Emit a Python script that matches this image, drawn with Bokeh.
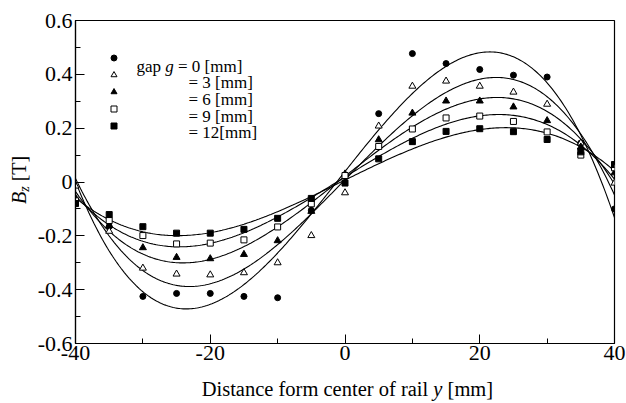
import numpy as np
from bokeh.plotting import figure
from bokeh.layouts import column, row
from bokeh.models import Range1d, FixedTicker, Label, Legend, LegendItem, Div
from bokeh.core.properties import value
from bokeh.embed import file_html
from bokeh.resources import INLINE

# Measured Bz along the lateral position y for five air gaps
positions = [-40, -35, -30, -25, -20, -15, -10, -5, 0, 5, 10, 15, 20, 25, 30, 35, 40]
bz_g0 = [-0.065, -0.165, -0.425, -0.414, -0.414, -0.425, -0.430, -0.105, 0.020,
         0.254, 0.477, 0.440, 0.418, 0.397, 0.390, 0.145, -0.100]
bz_g3 = [-0.015, -0.183, -0.320, -0.342, -0.345, -0.337, -0.300, -0.199, -0.040,
         0.208, 0.356, 0.375, 0.356, 0.334, 0.289, 0.145, -0.004]
bz_g6 = [-0.060, -0.162, -0.244, -0.280, -0.285, -0.269, -0.218, -0.109, 0.030,
         0.157, 0.256, 0.301, 0.301, 0.279, 0.228, 0.130, 0.034]
bz_g9 = [-0.070, -0.143, -0.199, -0.230, -0.227, -0.215, -0.167, -0.081, 0.024,
         0.132, 0.197, 0.238, 0.245, 0.225, 0.186, 0.100, 0.053]
bz_g12 = [-0.080, -0.121, -0.166, -0.190, -0.190, -0.176, -0.135, -0.061, -0.004,
          0.086, 0.150, 0.188, 0.198, 0.187, 0.158, 0.112, 0.065]

gap_labels = ["= 0 [mm]", "= 3 [mm]", "= 6 [mm]", "= 9 [mm]", "= 12[mm]"]

x_ticks = [-40, -20, 0, 20, 40]
x_minor = [-30, -10, 10, 30]
x_tick_labels = ["-40", "-20", "0", "20", "40"]
y_ticks = [-0.6, -0.4, -0.2, 0.0, 0.2, 0.4, 0.6]
y_minor = [-0.5, -0.3, -0.1, 0.1, 0.3, 0.5]
y_tick_labels = ["-0.6", "-0.4", "-0.2", "0", "0.2", "0.4", "0.6"]

SERIF = "Liberation Serif"

p = figure(width=596, height=375, output_backend="svg", toolbar_location=None,
           x_range=Range1d(-40, 40), y_range=Range1d(-0.6, 0.6),
           min_border_left=45, min_border_right=12, min_border_top=20,
           min_border_bottom=32, margin=0)
p.xgrid.visible = False
p.ygrid.visible = False
p.outline_line_color = "black"
p.outline_line_width = 1.2
p.background_fill_color = "white"
p.border_fill_color = "white"

for ax, ticks, minor, labels in ((p.xaxis[0], x_ticks, x_minor, x_tick_labels),
                                 (p.yaxis[0], y_ticks, y_minor, y_tick_labels)):
    ax.ticker = FixedTicker(ticks=ticks, minor_ticks=minor)
    ax.major_label_overrides = {t: s for t, s in zip(ticks, labels)}
    ax.major_tick_in = 9
    ax.major_tick_out = 0
    ax.minor_tick_in = 5
    ax.minor_tick_out = 0
    ax.axis_line_color = "black"
    ax.axis_line_width = 1.2
    ax.major_tick_line_color = "black"
    ax.minor_tick_line_color = "black"
    ax.major_label_text_font = SERIF
    ax.major_label_text_font_size = "22px"
    ax.major_label_text_color = "black"
p.xaxis.major_label_standoff = 2
p.yaxis.major_label_standoff = 3

# Cubic fits of each gap series
series = [bz_g0, bz_g3, bz_g6, bz_g9, bz_g12]
xs = np.linspace(-40, 40, 321)
for ys in series:
    coef = np.polyfit(positions, ys, 3)
    p.line(xs, np.polyval(coef, xs), line_color="black", line_width=1.1)

styles = [("circle", "black", 6), ("triangle", "white", 7), ("triangle", "black", 7),
          ("square", "white", 6), ("square", "black", 6)]
renderers = []
for ys, (mk, fill, sz) in zip(series, styles):
    r = p.scatter(positions, ys, marker=mk, size=sz, fill_color=fill,
                  line_color="black", line_width=1)
    renderers.append(r)

# marker column of the key; its texts are drawn as labels beside it
legend = Legend(items=[LegendItem(label=value(" "), renderers=[r]) for r in renderers],
                location=(31, 209), orientation="vertical",
                glyph_width=15, glyph_height=17, label_height=5, spacing=0,
                padding=0, margin=0, label_standoff=0,
                label_text_font_size="1px", border_line_color=None,
                background_fill_alpha=0)
p.add_layout(legend, "center")


def add_text(txt, x, y, size, style="normal"):
    p.add_layout(Label(x=x, y=y, x_units="screen", y_units="screen", text=txt,
                       text_font=SERIF, text_font_size=size, text_font_style=style,
                       text_color="black", text_align="left",
                       text_baseline="alphabetic"))


# key texts (frame-relative screen coordinates)
rows_y = [343 - 65.5, 343 - 82.2, 343 - 98.9, 343 - 115.6, 343 - 132.3]
add_text("gap", 136 - 75, rows_y[0], "17px")
add_text("g", 164.8 - 75, rows_y[0], "17px", "italic")
add_text(gap_labels[0], 177.5 - 75, rows_y[0], "17px")
for lab, yy in zip(gap_labels[1:], rows_y[1:]):
    add_text(lab, 188 - 75, yy, "17px")

FONT_CSS = "font-family:'Liberation Serif','Times New Roman',serif;color:black;"

# y axis title, rotated to read upwards
y_title = Div(width=30, height=375, margin=0, text=(
    '<div style="position:relative;width:30px;height:375px;">'
    '<span style="position:absolute;left:8.5px;top:204px;white-space:nowrap;'
    'font-size:20px;line-height:20px;transform:rotate(-90deg);'
    'transform-origin:0 0;' + FONT_CSS + '">'
    '<i>B</i><i style="font-size:14px;position:relative;top:3px;">z</i>'
    '&nbsp;[T]</span></div>'))

# x axis title
x_title = Div(width=626, height=28, margin=0, text=(
    '<div style="position:relative;width:626px;height:28px;">'
    '<span style="position:absolute;left:201.7px;top:4px;white-space:nowrap;'
    'font-size:20.5px;line-height:20.5px;' + FONT_CSS + '">'
    'Distance form center of rail <i>y</i> [mm]</span></div>'))

layout = column(row(y_title, p, spacing=0, margin=0), x_title, spacing=0, margin=0)

open("out.html", "w").write(file_html(layout, INLINE))
